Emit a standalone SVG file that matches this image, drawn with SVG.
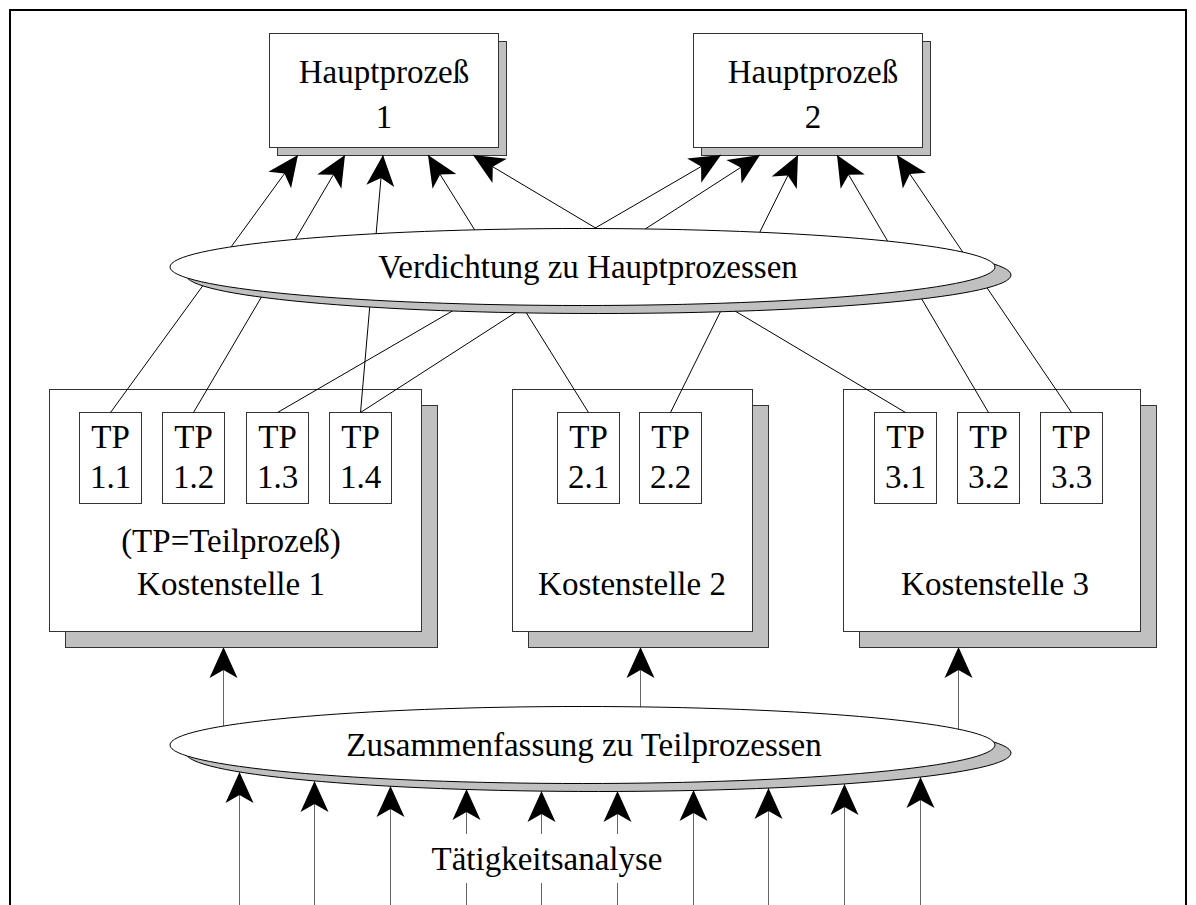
<svg xmlns="http://www.w3.org/2000/svg" width="1196" height="905" viewBox="0 0 1196 905">
  <style>
    .box { fill: #fff; stroke: #333; stroke-width: 1; }
    .shadow { fill: #c0c0c0; stroke: #333; stroke-width: 1; }
    .oval { fill: #fff; stroke: #000; stroke-width: 1; }
    .oval-shadow { fill: #c0c0c0; stroke: #000; stroke-width: 1; }
    .lbl { font-family: "Liberation Serif", "Times New Roman", serif; font-size: 33px; text-anchor: middle; fill: #000; }
    .conn { stroke: #000; stroke-width: 1; fill: none; }
    .feed { stroke: #666; stroke-width: 1; fill: none; }
  </style>
  <defs>
    <marker id="dart" viewBox="-32 -15 33 30" refX="0" refY="0" markerWidth="33" markerHeight="30" markerUnits="userSpaceOnUse" orient="auto" overflow="visible">
      <path d="M0,0 L-31,-14 L-23,0 L-31,14 Z" fill="#000"/>
    </marker>
  </defs>

  <rect width="1196" height="905" fill="#fff"/>
  <!-- outer frame, open at the bottom edge -->
  <path d="M10,910 V10 H1186 V910" fill="none" stroke="#000" stroke-width="2"/>

  <!-- main processes -->
  <g id="hp1">
    <rect class="shadow" x="277.5" y="41.5" width="229" height="114"/>
    <rect class="box" x="269.5" y="33.5" width="229" height="114"/>
    <text class="lbl" x="384" y="83">Hauptprozeß</text>
    <text class="lbl" x="384" y="128">1</text>
  </g>
  <g id="hp2">
    <rect class="shadow" x="701.5" y="41.5" width="229" height="114"/>
    <rect class="box" x="693.5" y="33.5" width="229" height="114"/>
    <text class="lbl" x="813" y="83">Hauptprozeß</text>
    <text class="lbl" x="813" y="128">2</text>
  </g>

  <!-- cost centres with their sub-processes -->
  <g id="ks1">
    <rect class="shadow" x="65.5" y="405.5" width="372" height="242"/>
    <rect class="box" x="49.5" y="389.5" width="372" height="242"/>
    <text class="lbl" x="231" y="552">(TP=Teilprozeß)</text>
    <text class="lbl" x="231" y="595">Kostenstelle 1</text>
  </g>
  <g id="tp11"><rect class="box" x="79.5" y="412.5" width="62" height="91"/><text class="lbl" x="110.5" y="448">TP</text><text class="lbl" x="110.5" y="488">1.1</text></g>
  <g id="tp12"><rect class="box" x="162.5" y="412.5" width="62" height="91"/><text class="lbl" x="193.5" y="448">TP</text><text class="lbl" x="193.5" y="488">1.2</text></g>
  <g id="tp13"><rect class="box" x="246.5" y="412.5" width="62" height="91"/><text class="lbl" x="277.5" y="448">TP</text><text class="lbl" x="277.5" y="488">1.3</text></g>
  <g id="tp14"><rect class="box" x="329.5" y="412.5" width="62" height="91"/><text class="lbl" x="360.5" y="448">TP</text><text class="lbl" x="360.5" y="488">1.4</text></g>

  <g id="ks2">
    <rect class="shadow" x="528.5" y="405.5" width="240" height="242"/>
    <rect class="box" x="512.5" y="389.5" width="240" height="242"/>
    <text class="lbl" x="632" y="595">Kostenstelle 2</text>
  </g>
  <g id="tp21"><rect class="box" x="557.5" y="412.5" width="62" height="91"/><text class="lbl" x="588.5" y="448">TP</text><text class="lbl" x="588.5" y="488">2.1</text></g>
  <g id="tp22"><rect class="box" x="639.5" y="412.5" width="62" height="91"/><text class="lbl" x="670.5" y="448">TP</text><text class="lbl" x="670.5" y="488">2.2</text></g>

  <g id="ks3">
    <rect class="shadow" x="859.5" y="405.5" width="297" height="242"/>
    <rect class="box" x="843.5" y="389.5" width="297" height="242"/>
    <text class="lbl" x="995" y="595">Kostenstelle 3</text>
  </g>
  <g id="tp31"><rect class="box" x="874.5" y="412.5" width="62" height="91"/><text class="lbl" x="905.5" y="448">TP</text><text class="lbl" x="905.5" y="488">3.1</text></g>
  <g id="tp32"><rect class="box" x="957.5" y="412.5" width="62" height="91"/><text class="lbl" x="988.5" y="448">TP</text><text class="lbl" x="988.5" y="488">3.2</text></g>
  <g id="tp33"><rect class="box" x="1040.5" y="412.5" width="62" height="91"/><text class="lbl" x="1071.5" y="448">TP</text><text class="lbl" x="1071.5" y="488">3.3</text></g>

  <!-- connectors: sub-process to main process, feeds into cost centres, activity analysis inputs -->
  <g id="connectors">
    <line class="conn" x1="110.5" y1="412.5" x2="298" y2="155" marker-end="url(#dart)"/>
    <line class="conn" x1="193.5" y1="412.5" x2="345" y2="155" marker-end="url(#dart)"/>
    <line class="conn" x1="360.5" y1="412.5" x2="383" y2="155" marker-end="url(#dart)"/>
    <line class="conn" x1="588.5" y1="412.5" x2="428" y2="155" marker-end="url(#dart)"/>
    <line class="conn" x1="905.5" y1="412.5" x2="473" y2="155" marker-end="url(#dart)"/>
    <line class="conn" x1="277.5" y1="412.5" x2="721" y2="155" marker-end="url(#dart)"/>
    <line class="conn" x1="360.5" y1="412.5" x2="760" y2="155" marker-end="url(#dart)"/>
    <line class="conn" x1="670.5" y1="412.5" x2="798" y2="155" marker-end="url(#dart)"/>
    <line class="conn" x1="988.5" y1="412.5" x2="837" y2="155" marker-end="url(#dart)"/>
    <line class="conn" x1="1071.5" y1="412.5" x2="897" y2="155" marker-end="url(#dart)"/>

    <line class="feed" x1="223.5" y1="745" x2="223.5" y2="647" marker-end="url(#dart)"/>
    <line class="feed" x1="640.5" y1="745" x2="640.5" y2="647" marker-end="url(#dart)"/>
    <line class="feed" x1="958.5" y1="745" x2="958.5" y2="647" marker-end="url(#dart)"/>

    <line class="feed" x1="239.5" y1="910" x2="239.5" y2="772" marker-end="url(#dart)"/>
    <line class="feed" x1="314.5" y1="910" x2="314.5" y2="781" marker-end="url(#dart)"/>
    <line class="feed" x1="390.5" y1="910" x2="390.5" y2="786" marker-end="url(#dart)"/>
    <line class="feed" x1="466.5" y1="910" x2="466.5" y2="883"/>
    <line class="feed" x1="466.5" y1="834" x2="466.5" y2="789" marker-end="url(#dart)"/>
    <line class="feed" x1="541.5" y1="910" x2="541.5" y2="883"/>
    <line class="feed" x1="541.5" y1="834" x2="541.5" y2="791" marker-end="url(#dart)"/>
    <line class="feed" x1="617.5" y1="910" x2="617.5" y2="883"/>
    <line class="feed" x1="617.5" y1="834" x2="617.5" y2="791" marker-end="url(#dart)"/>
    <line class="feed" x1="693.5" y1="910" x2="693.5" y2="790" marker-end="url(#dart)"/>
    <line class="feed" x1="768.5" y1="910" x2="768.5" y2="788" marker-end="url(#dart)"/>
    <line class="feed" x1="844.5" y1="910" x2="844.5" y2="784" marker-end="url(#dart)"/>
    <line class="feed" x1="920.5" y1="910" x2="920.5" y2="777" marker-end="url(#dart)"/>
  </g>

  <!-- process steps drawn as ovals over the connectors -->
  <g id="verdichtung">
    <ellipse class="oval-shadow" cx="598.5" cy="275" rx="412.5" ry="38.5"/>
    <ellipse class="oval" cx="582.5" cy="267" rx="412.5" ry="38.5"/>
    <text class="lbl" x="588" y="278">Verdichtung zu Hauptprozessen</text>
  </g>
  <g id="zusammenfassung">
    <ellipse class="oval-shadow" cx="598.5" cy="753" rx="412.5" ry="38.5"/>
    <ellipse class="oval" cx="582.5" cy="745" rx="412.5" ry="38.5"/>
    <text class="lbl" x="584" y="756">Zusammenfassung zu Teilprozessen</text>
  </g>

  <g id="taetigkeitsanalyse">
    <text class="lbl" x="547" y="870">Tätigkeitsanalyse</text>
  </g>
</svg>
